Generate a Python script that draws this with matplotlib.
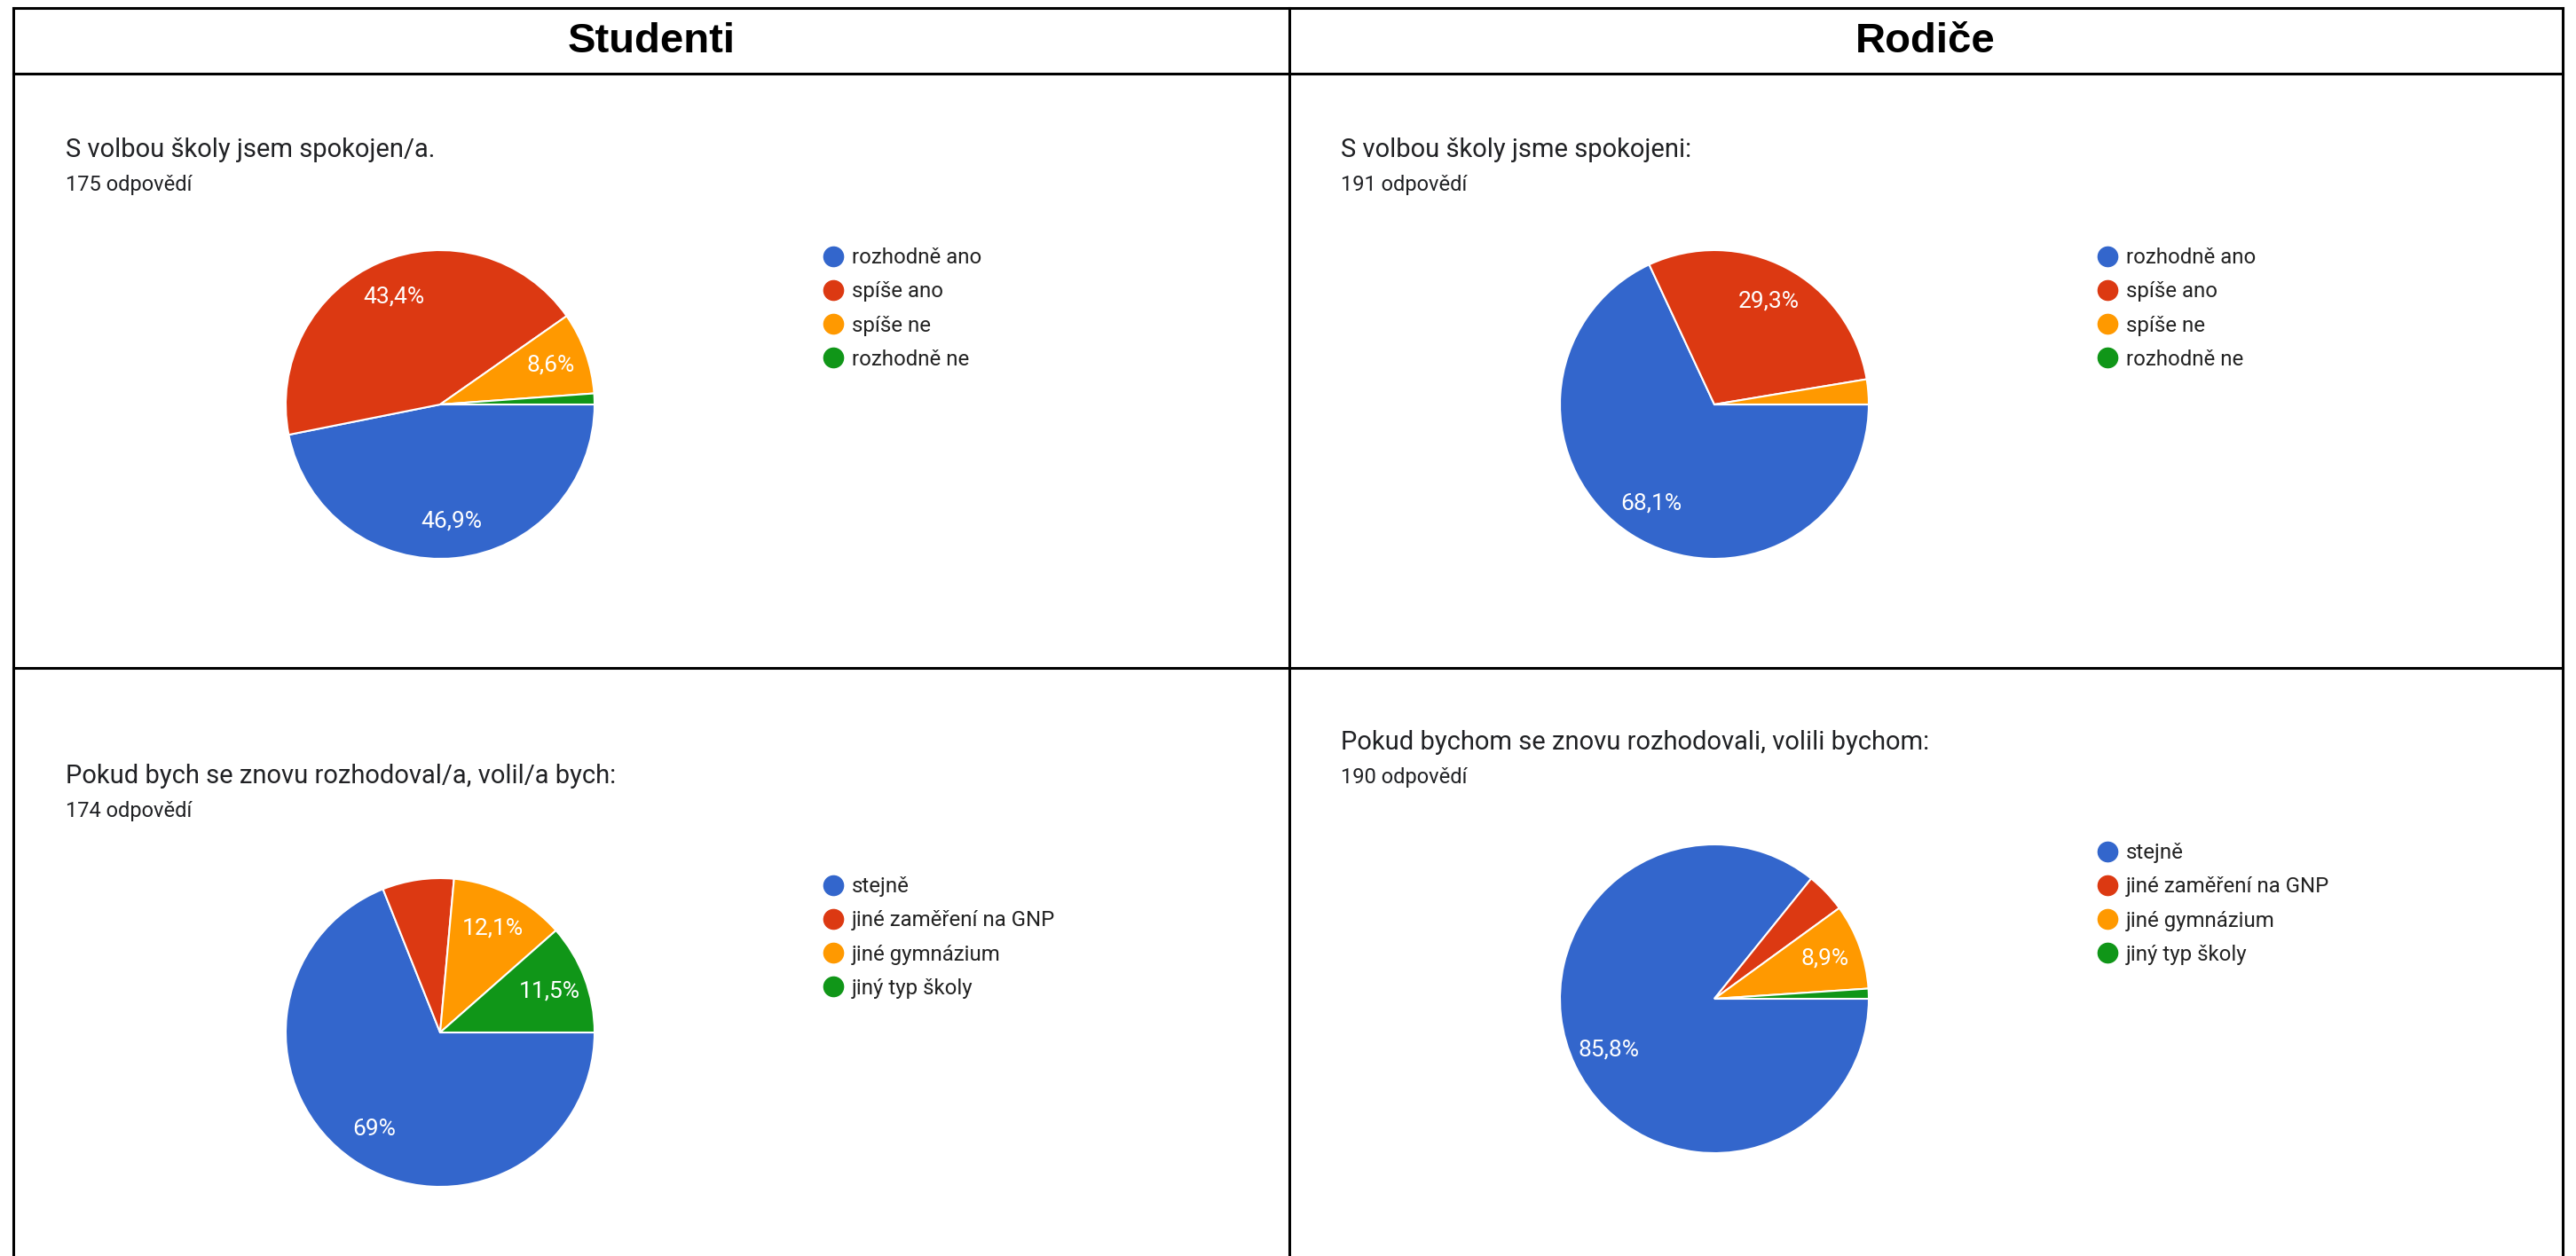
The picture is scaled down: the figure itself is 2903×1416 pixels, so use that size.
import matplotlib.pyplot as plt
from matplotlib.lines import Line2D

W, H = 2903, 1416

# data
header_labels = ["Studenti", "Rodiče"]
questions = ["S volbou školy jsem spokojen/a.",
             "S volbou školy jsme spokojeni:",
             "Pokud bych se znovu rozhodoval/a, volil/a bych:",
             "Pokud bychom se znovu rozhodovali, volili bychom:"]
responses = [175, 191, 174, 190]
satisfaction_cats = ["rozhodně ano", "spíše ano", "spíše ne", "rozhodně ne"]
choice_cats = ["stejně", "jiné zaměření na GNP", "jiné gymnázium", "jiný typ školy"]

students_satisfaction = [82, 76, 15, 2]
parents_satisfaction = [130, 56, 5, 0]
students_choice = [120, 13, 21, 20]
parents_choice = [163, 8, 17, 2]

students_satisfaction_pct = ["46,9%", "43,4%", "8,6%", ""]
parents_satisfaction_pct = ["68,1%", "29,3%", "", ""]
students_choice_pct = ["69%", "", "12,1%", "11,5%"]
parents_choice_pct = ["85,8%", "", "8,9%", ""]

colors = ["#3366cc", "#dc3912", "#ff9900", "#109618"]

plt.rcParams['font.family'] = ['Roboto', 'DejaVu Sans']

fig = plt.figure(figsize=(W / 100, H / 100), dpi=100)
fig.patch.set_facecolor("white")


def fx(x):
    return x / W


def fy(y):
    return 1 - y / H


# table grid
lw = 2.2
for y in [9, 83, 753]:
    fig.add_artist(Line2D([fx(15), fx(2888)], [fy(y), fy(y)], color="black", lw=lw))
for x in [15, 1453, 2888]:
    fig.add_artist(Line2D([fx(x), fx(x)], [fy(9), fy(1416)], color="black", lw=lw))

for lab, xc in zip(header_labels, [734, 2170]):
    fig.text(fx(xc), fy(47), lab, ha="center", va="center", fontsize=34,
             fontweight="bold", family="Liberation Sans", color="black")

# panels: pie center x, y, title x, title y, legend y
panels = [
    (496, 456, 74, 169, 348, students_satisfaction, students_satisfaction_pct, satisfaction_cats),
    (1932, 456, 1511, 169, 348, parents_satisfaction, parents_satisfaction_pct, satisfaction_cats),
    (496, 1164, 74, 875, 1057, students_choice, students_choice_pct, choice_cats),
    (1932, 1126, 1511, 837, 1019, parents_choice, parents_choice_pct, choice_cats),
]

r = 174
side = 2 * 1.25 * r
for i, (cx, cy, tx, ty, ly, vals, pct, cats) in enumerate(panels):
    fig.text(fx(tx), fy(ty), questions[i], ha="left", va="center",
             fontsize=21, color="#202124")
    fig.text(fx(tx), fy(ty + 39), f"{responses[i]} odpovědí", ha="left",
             va="center", fontsize=17, color="#202124")

    ax = fig.add_axes([fx(cx - side / 2), fy(cy + side / 2), side / W, side / H])
    wedges, texts = ax.pie(vals, colors=colors, startangle=0, counterclock=False,
                           labels=pct, labeldistance=0.76,
                           wedgeprops=dict(edgecolor="white", linewidth=1.5),
                           textprops=dict(color="white", fontsize=19))
    for t in texts:
        t.set_ha("center")
        t.set_va("center")

    handles = [Line2D([], [], marker="o", ls="", markersize=16, color=c) for c in colors]
    fig.legend(handles, cats, loc="center left",
               bbox_to_anchor=(fx(cx + 431), fy(ly)), bbox_transform=fig.transFigure,
               frameon=False, fontsize=17.3, handlelength=1.0, handletextpad=0.375,
               labelspacing=0.63, borderpad=0, borderaxespad=0, labelcolor="#222222")

fig.savefig("out.png", dpi=100)
